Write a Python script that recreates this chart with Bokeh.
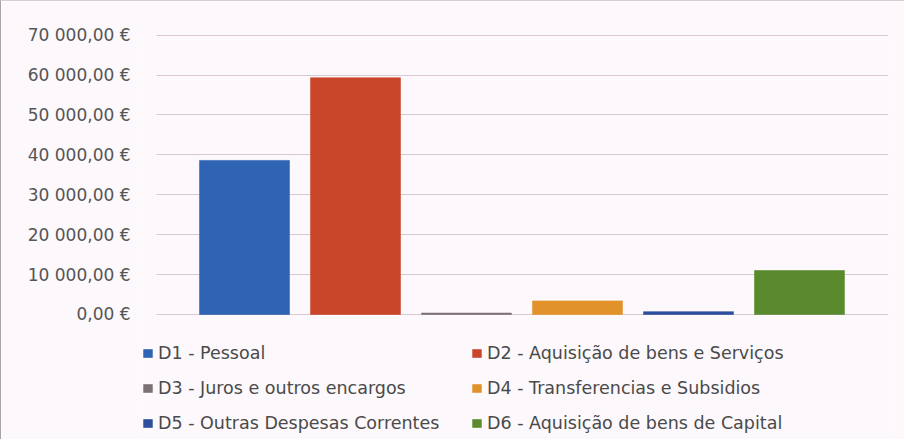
from bokeh.plotting import figure
from bokeh.models import ColumnDataSource, FixedTicker, Legend, LegendItem, Range1d
from bokeh.embed import file_html
from bokeh.resources import INLINE

# ---- data ----
categories = ["D1 - Pessoal", "D2 - Aquisição de bens e Serviços",
              "D3 - Juros e outros encargos", "D4 - Transferencias e Subsidios",
              "D5 - Outras Despesas Correntes", "D6 - Aquisição de bens de Capital"]
values = [38600, 59300, 350, 3400, 700, 11000]
colors = ["#2f63b3", "#c9462b", "#7d7176", "#e2922a", "#2c4f9e", "#5b8a2e"]
tick_values = [0, 10000, 20000, 30000, 40000, 50000, 60000, 70000]
tick_labels = ["0,00 €", "10 000,00 €", "20 000,00 €", "30 000,00 €",
               "40 000,00 €", "50 000,00 €", "60 000,00 €", "70 000,00 €"]

FONT = "DejaVu Sans"
BG = "#fcf8fb"

positions = list(range(len(categories)))
source = ColumnDataSource(dict(x=positions, cat=categories, val=values, color=colors))

# frame spans the legend area too; the value axis keeps 0 .. 70 000 in its place
p = figure(width=904, height=439, output_backend="svg", toolbar_location=None,
           x_range=Range1d(-0.919, 5.802), y_range=Range1d(-31570, 70400),
           min_border_left=141, min_border_right=17, min_border_top=32, min_border_bottom=0)
p.background_fill_color = BG
p.border_fill_color = BG
p.outline_line_color = None
p.styles = {"border-left": "1px solid #a9a3a6", "border-top": "1px solid #d5cfd2"}

r = p.vbar(x="x", top="val", width=0.81, source=source, fill_color="color",
           line_color="color", line_alpha=0.6)

p.xaxis.visible = False
p.xgrid.grid_line_color = None
yg = p.ygrid[0]
yg.grid_line_color = "#d9c8d3"
yg.grid_line_width = 1.2
yg.ticker = FixedTicker(ticks=tick_values)
if "cross_bounds" in yg.properties():
    yg.cross_bounds = (-0.793, 5.802)

ya = p.yaxis[0]
ya.ticker = FixedTicker(ticks=tick_values)
ya.major_label_overrides = {v: l for v, l in zip(tick_values, tick_labels)}
ya.axis_line_color = None
ya.major_tick_line_color = None
ya.minor_tick_line_color = None
ya.major_label_standoff = 6
ya.major_label_text_font = FONT
ya.major_label_text_font_size = "17px"
ya.major_label_text_color = "#555555"

items = [LegendItem(label=c, renderers=[r], index=i) for i, c in enumerate(categories)]
legend = Legend(items=items, location=(0, 7), orientation="horizontal", ncols=2,
                label_text_font=FONT, label_text_font_size="17.5px", label_text_color="#4a4a4a",
                glyph_width=11, glyph_height=10, label_height=17, label_standoff=5,
                label_width=298, spacing=15, padding=0, margin=0,
                background_fill_alpha=0, border_line_color=None)
p.add_layout(legend, "center")

open("out.html", "w").write(file_html(p, INLINE))
